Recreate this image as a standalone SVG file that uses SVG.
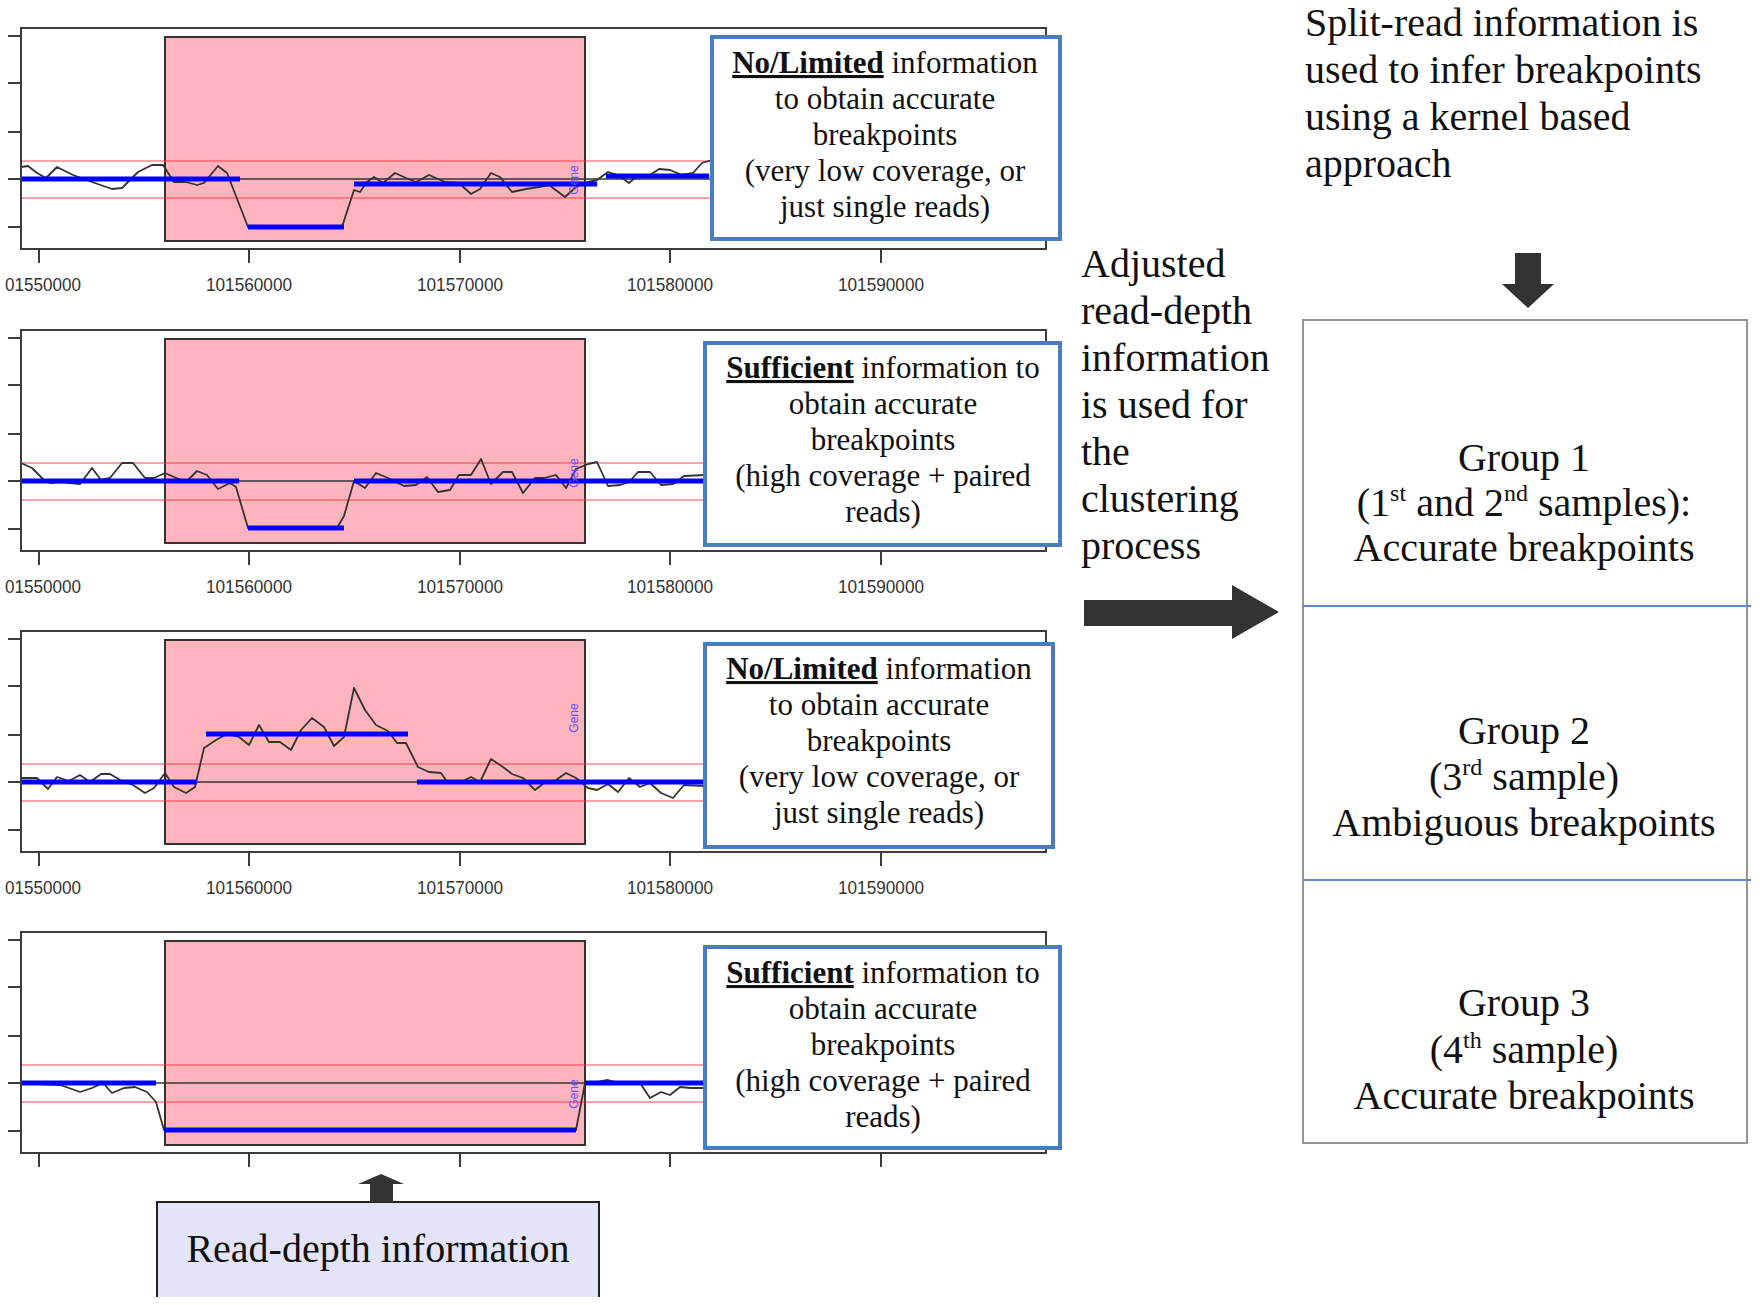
<svg xmlns="http://www.w3.org/2000/svg" xmlns:xlink="http://www.w3.org/1999/xlink" width="1760" height="1305" viewBox="0 0 1760 1305">
<style>
.frame{fill:none;stroke:#3c3c3c;stroke-width:2}
.tick{stroke:#3c3c3c;stroke-width:2}
.pink{fill:#ffb3bd;stroke:#333;stroke-width:2}
.red{stroke:#ff3040;stroke-opacity:0.45;stroke-width:2}
.mid{stroke:#333;stroke-width:1.5}
.data{fill:none;stroke:#333;stroke-width:1.8;stroke-linejoin:round}
.seg{stroke:#0000ff;stroke-width:5}
.lbl{font-family:"Liberation Sans",Arial,sans-serif;font-size:19px;fill:#333;text-anchor:middle}
.gene{font-family:"Liberation Sans",Arial,sans-serif;font-size:12px;fill:#5a5aff;text-anchor:middle}
.ibox{fill:#fff;stroke:#4a7dbb;stroke-width:4}
.itxt{font-family:"Liberation Serif","Times New Roman",serif;font-size:31px;fill:#111;text-anchor:middle}
.big{font-family:"Liberation Serif","Times New Roman",serif;font-size:40px;fill:#111}
.mc{text-anchor:middle}
.arrow{fill:#333}
.gbox{fill:#fff;stroke:#8a8a8a;stroke-width:1.8}
.div{stroke:#5b8bc9;stroke-width:1.8}
</style>
<defs>
<g id="bg">
<rect class="pink" x="165" y="37" width="420" height="204"/>
<line class="red" x1="21" y1="161" x2="1046" y2="161"/>
<line class="red" x1="21" y1="198" x2="1046" y2="198"/>
<line class="mid" x1="21" y1="179" x2="1046" y2="179"/>
</g>
<g id="axes">
<rect class="frame" x="21" y="28" width="1025" height="221"/>
<path class="tick" d="M8 36H21M8 83H21M8 132H21M8 179H21M8 227H21M39 249V263M249 249V263M460 249V263M670 249V263M881 249V263"/>
</g>
<g id="xlabels">
<text class="lbl" x="5" y="291" style="text-anchor:start" textLength="76" lengthAdjust="spacingAndGlyphs">01550000</text>
<text class="lbl" x="249" y="291" textLength="86" lengthAdjust="spacingAndGlyphs">101560000</text>
<text class="lbl" x="460" y="291" textLength="86" lengthAdjust="spacingAndGlyphs">101570000</text>
<text class="lbl" x="670" y="291" textLength="86" lengthAdjust="spacingAndGlyphs">101580000</text>
<text class="lbl" x="881" y="291" textLength="86" lengthAdjust="spacingAndGlyphs">101590000</text>
</g>
</defs>

<g id="panel1">
<use xlink:href="#bg"/>
<polyline class="data" points="21,167 28,166 37,173 46,178 57,167 73,175 92,182 112,189 122,188 138,172 152,165 163,165 174,182 186,182 197,185 204,183 218,166 227,173 248,227 342,227 354,190 360,192 367,182 374,177 383,183 395,173 406,178 416,182 429,175 445,182 459,183 471,194 480,189 491,173 500,177 512,192 526,189 539,187 549,185 565,197 576,187 588,182 597,180 608,172 618,175 629,183 636,177 647,177 659,169 670,170 682,175 693,173 702,163 712,160"/>
<path class="seg" d="M21 179H240M248 227H344M354 184H597M606 176H709"/>
<text class="gene" transform="translate(578,180) rotate(-90)">Gene</text>
<use xlink:href="#axes"/>
<use xlink:href="#xlabels"/>
</g>

<g id="panel2" transform="translate(0,302)">
<use xlink:href="#bg"/>
<polyline class="data" points="21,161 32,166 44,178 50,181 60,180 80,182 92,166 101,178 110,176 122,161 133,161 145,176 154,176 165,171 174,175 186,180 197,169 207,173 218,187 230,181 236,185 248,226 337,226 344,214 354,179 365,186 376,171 388,176 404,184 416,183 427,175 438,190 450,188 459,173 471,173 481,157 491,182 503,170 512,170 523,191 535,176 544,176 556,173 566,186 576,167 588,162 597,160 608,184 620,183 629,180 638,170 650,170 661,183 673,182 684,174 705,173"/>
<path class="seg" d="M21 179H239M248 226H344M354 179H705"/>
<text class="gene" transform="translate(578,171) rotate(-90)">Gene</text>
<use xlink:href="#axes"/>
<use xlink:href="#xlabels"/>
</g>

<g id="panel3" transform="translate(0,603)">
<use xlink:href="#bg"/>
<polyline class="data" points="21,175 37,175 48,186 57,174 69,178 80,172 90,179 101,171 110,171 122,178 133,182 145,190 154,185 165,170 174,184 186,190 195,184 204,145 216,137 227,131 239,134 249,142 259,122 269,139 280,139 291,147 301,127 312,115 324,124 334,143 344,134 354,85 365,107 376,122 388,128 397,140 406,140 418,164 429,169 441,170 448,180 459,180 471,174 480,179 491,156 503,164 512,171 523,175 535,187 544,180 556,177 566,170 576,175 588,185 597,187 608,181 618,189 629,175 640,184 650,180 661,190 673,195 684,182 705,183"/>
<path class="seg" d="M21 179H197M206 131H408M417 179H705"/>
<text class="gene" transform="translate(578,115) rotate(-90)">Gene</text>
<use xlink:href="#axes"/>
<use xlink:href="#xlabels"/>
</g>

<g id="panel4" transform="translate(0,904)">
<use xlink:href="#bg"/>
<polyline class="data" points="21,179 60,181 69,184 80,188 92,184 103,179 112,189 124,184 135,183 147,188 156,198 164,226 576,226 585,179 597,178 608,176 620,179 640,179 650,194 661,188 670,191 680,183 691,184 705,184"/>
<path class="seg" d="M21 179H156M164 226H576M585 179H705"/>
<text class="gene" transform="translate(578,190) rotate(-90)">Gene</text>
<use xlink:href="#axes"/>
</g>

<g id="infobox1">
<rect class="ibox" x="712" y="37" width="348" height="202"/>
<text class="itxt" x="885" y="73"><tspan font-weight="bold" text-decoration="underline">No/Limited</tspan> information</text>
<text class="itxt" x="885" y="109">to obtain accurate</text>
<text class="itxt" x="885" y="145">breakpoints</text>
<text class="itxt" x="885" y="181">(very low coverage, or</text>
<text class="itxt" x="885" y="217">just single reads)</text>
</g>

<g id="infobox2">
<rect class="ibox" x="705" y="343" width="355" height="202"/>
<text class="itxt" x="883" y="378"><tspan font-weight="bold" text-decoration="underline">Sufficient</tspan> information to</text>
<text class="itxt" x="883" y="414">obtain accurate</text>
<text class="itxt" x="883" y="450">breakpoints</text>
<text class="itxt" x="883" y="486">(high coverage + paired</text>
<text class="itxt" x="883" y="522">reads)</text>
</g>

<g id="infobox3">
<rect class="ibox" x="705" y="644" width="348" height="203"/>
<text class="itxt" x="879" y="679"><tspan font-weight="bold" text-decoration="underline">No/Limited</tspan> information</text>
<text class="itxt" x="879" y="715">to obtain accurate</text>
<text class="itxt" x="879" y="751">breakpoints</text>
<text class="itxt" x="879" y="787">(very low coverage, or</text>
<text class="itxt" x="879" y="823">just single reads)</text>
</g>

<g id="infobox4">
<rect class="ibox" x="705" y="947" width="355" height="201"/>
<text class="itxt" x="883" y="983"><tspan font-weight="bold" text-decoration="underline">Sufficient</tspan> information to</text>
<text class="itxt" x="883" y="1019">obtain accurate</text>
<text class="itxt" x="883" y="1055">breakpoints</text>
<text class="itxt" x="883" y="1091">(high coverage + paired</text>
<text class="itxt" x="883" y="1127">reads)</text>
</g>

<g id="readdepth">
<rect x="157" y="1202" width="442" height="95" fill="#e4e4f8"/>
<path d="M157 1297V1202H599V1297" fill="none" stroke="#222" stroke-width="2"/>
<text class="big mc" x="378" y="1262">Read-depth information</text>
</g>

<g id="splitread">
<text class="big" x="1305" y="36">Split-read information is</text>
<text class="big" x="1305" y="83">used to infer breakpoints</text>
<text class="big" x="1305" y="130">using a kernel based</text>
<text class="big" x="1305" y="177">approach</text>
</g>

<g id="adjusted">
<text class="big" x="1081" y="277">Adjusted</text>
<text class="big" x="1081" y="324">read-depth</text>
<text class="big" x="1081" y="371">information</text>
<text class="big" x="1081" y="418">is used for</text>
<text class="big" x="1081" y="465">the</text>
<text class="big" x="1081" y="512">clustering</text>
<text class="big" x="1081" y="559">process</text>
</g>

<g id="groups">
<rect class="gbox" x="1303" y="320" width="444" height="823"/>
<line class="div" x1="1303" y1="606" x2="1751" y2="606"/>
<line class="div" x1="1303" y1="880" x2="1751" y2="880"/>
<g id="group1">
<text class="big mc" x="1524" y="471">Group 1</text>
<text class="big mc" x="1524" y="516">(1<tspan font-size="24" dy="-15">st</tspan><tspan dy="15"> and 2</tspan><tspan font-size="24" dy="-15">nd</tspan><tspan dy="15"> samples):</tspan></text>
<text class="big mc" x="1524" y="561">Accurate breakpoints</text>
</g>
<g id="group2">
<text class="big mc" x="1524" y="744">Group 2</text>
<text class="big mc" x="1524" y="790">(3<tspan font-size="24" dy="-15">rd</tspan><tspan dy="15"> sample)</tspan></text>
<text class="big mc" x="1524" y="836">Ambiguous breakpoints</text>
</g>
<g id="group3">
<text class="big mc" x="1524" y="1016">Group 3</text>
<text class="big mc" x="1524" y="1063">(4<tspan font-size="24" dy="-15">th</tspan><tspan dy="15"> sample)</tspan></text>
<text class="big mc" x="1524" y="1109">Accurate breakpoints</text>
</g>
</g>

<g id="connectors">
<polygon class="arrow" points="370,1202 370,1184 358,1184 381,1174 404,1184 393,1184 393,1202"/>
<polygon class="arrow" points="1515,253 1541,253 1541,284 1554,284 1528,308 1502,284 1515,284"/>
<polygon class="arrow" points="1084,600 1232,600 1232,585 1279,612 1232,639 1232,626 1084,626"/>
</g>
</svg>
